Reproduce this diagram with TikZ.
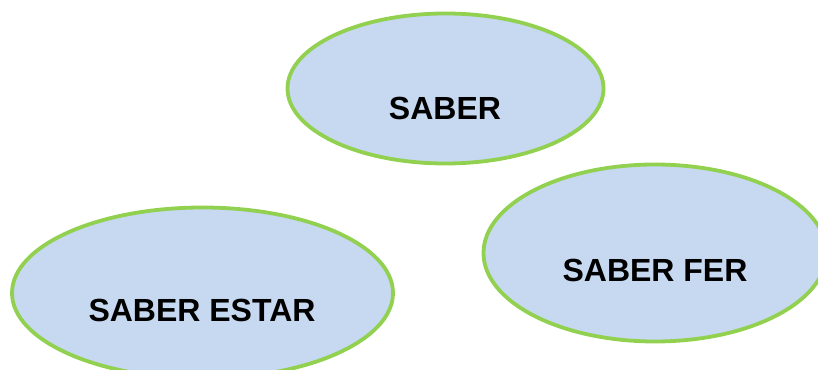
\documentclass[tikz,border=0pt]{standalone}
\usepackage{fontspec}
\setmainfont{Liberation Sans}
\usetikzlibrary{shapes.geometric}
\definecolor{blobfill}{HTML}{C6D9F1}
\definecolor{blobline}{HTML}{92D050}
\begin{document}
\begin{tikzpicture}[x=1pt,y=1pt,
  blob/.style={ellipse, draw=blobline, fill=blobfill, line width=3.8pt, inner sep=0pt, outer sep=0pt},
  lbl/.style={anchor=base, inner sep=0pt, font=\fontsize{32}{36}\selectfont\bfseries}]
\useasboundingbox (0,0) rectangle (818,369);
\clip (0,0) rectangle (818,369);
\node[blob, minimum width=316pt, minimum height=150pt] (saber) at (445.5,280.5) {};
\node[blob, minimum width=343pt, minimum height=177pt] (fer) at (655,116) {};
\node[blob, minimum width=381pt, minimum height=171pt] (estar) at (202.5,76) {};
\node[lbl] (tsaber) at (445,249.5) {SABER};
\node[lbl] (tfer) at (655,87.5) {SABER FER};
\node[lbl] (testar) at (202,47.5) {SABER ESTAR};
\end{tikzpicture}
\end{document}
